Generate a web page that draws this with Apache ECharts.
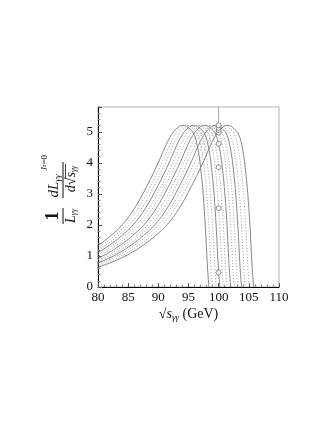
<!DOCTYPE html>
<html><head><meta charset="utf-8">
<script src="https://cdn.jsdelivr.net/npm/echarts@6/dist/echarts.min.js"></script>
<style>html,body{margin:0;padding:0;background:#fff}#c{width:333px;height:430px}</style>
</head><body><div id="c"></div>
<script>
// Curve profile: offset from the peak (GeV) and value
const profileT = [-22, -20, -18, -16, -14, -12, -10, -8, -6, -4, -3, -2, -1, 0, 0.6, 1.2, 1.7, 2.3, 2.9, 3.5, 4.1, 4.3];
const profileY = [0.6, 0.74, 0.9, 1.1, 1.35, 1.65, 2.02, 2.55, 3.25, 4.05, 4.5, 4.88, 5.12, 5.21, 5.18, 5.07, 4.97, 4.61, 3.86, 2.54, 0.47, 0];
// Peak positions of the 13 curves
const peaks = [94.1, 94.7, 95.3, 95.9, 96.5, 97.1, 97.7, 98.3, 98.9, 99.5, 100.1, 100.8, 101.5];
// Circles at sqrt(s)=100
const circleX = [100, 100, 100, 100, 100, 100, 100, 100];
const circleY = [0.47, 2.54, 3.86, 4.61, 4.98, 5.06, 5.13, 5.21];
const xTicks = [80, 85, 90, 95, 100, 105, 110];
const yTicks = [0, 1, 2, 3, 4, 5];

const serif = 'Liberation Serif';
const series = peaks.map((p, i) => ({
  type: 'line',
  data: profileT.map((t, k) => [p + t, profileY[k]]),
  smooth: 0.4,
  symbol: 'none',
  silent: true,
  lineStyle: i % 3 === 0
    ? { color: '#7a7a7a', width: 0.9, type: 'solid' }
    : { color: '#a0a0a0', width: 0.9, type: [1.2, 1.8] },
  z: 2
}));
series.push({
  type: 'scatter',
  data: circleX.map((x, k) => [x, circleY[k]]),
  symbol: 'circle',
  symbolSize: 5,
  itemStyle: { color: '#fff', borderColor: '#666', borderWidth: 0.9 },
  z: 5,
  markLine: {
    silent: true, symbol: 'none', label: { show: false },
    lineStyle: { color: '#aaa', width: 1, type: 'solid' },
    data: [[{ coord: [100, 5.22] }, { coord: [100, 5.8] }]]
  }
});

const chart = echarts.init(document.getElementById('c'), null, { renderer: 'canvas' });
chart.setOption({
  animation: false,
  grid: { left: 98, right: 54, top: 107, bottom: 143, show: true, borderColor: '#b0b0b0', borderWidth: 1, backgroundColor: 'transparent' },
  xAxis: {
    type: 'value', min: 80, max: 110, interval: 5,
    axisLine: { show: true, lineStyle: { color: '#000', width: 1 } },
    axisTick: { show: true, inside: true, length: 4, lineStyle: { color: '#555' } },
    minorTick: { show: true, splitNumber: 5, length: 2.5, lineStyle: { color: '#888' } },
    splitLine: { show: false },
    axisLabel: { color: '#111', fontFamily: serif, fontSize: 13, margin: 4,
      formatter: v => xTicks.includes(v) ? String(v) : '' },
    name: '{r|√}{i|s}{sub|γγ}{n| (GeV)}',
    nameLocation: 'middle', nameGap: 20,
    nameTextStyle: {
      rich: {
        r: { fontFamily: serif, fontSize: 14, color: '#111' },
        i: { fontFamily: serif, fontStyle: 'italic', fontSize: 14, color: '#111' },
        sub: { fontFamily: serif, fontStyle: 'italic', fontSize: 9, color: '#111', verticalAlign: 'bottom', padding: [6, 0, 0, 0] },
        n: { fontFamily: serif, fontSize: 14, color: '#111' }
      }
    }
  },
  yAxis: {
    type: 'value', min: 0, max: 5.8, interval: 1,
    axisLine: { show: true, lineStyle: { color: '#000', width: 1 } },
    axisTick: { show: true, inside: true, length: 4, lineStyle: { color: '#555' } },
    minorTick: { show: true, splitNumber: 5, length: 2.5, lineStyle: { color: '#888' } },
    splitLine: { show: false },
    axisLabel: { color: '#111', fontFamily: serif, fontSize: 13, margin: 5, showMaxLabel: false,
      formatter: v => yTicks.includes(v) ? String(v) : '' }
  },
  graphic: [
    {
      type: 'group', x: 63, y: 196, rotation: Math.PI / 2,
      children: [
        { type: 'line', shape: { x1: -28, y1: 0, x2: -12, y2: 0 }, style: { stroke: '#111', lineWidth: 1 } },
        { type: 'text', x: -20, y: -1, style: { text: '1', fontFamily: serif, fontSize: 18, fontWeight: 'bold', fill: '#111', align: 'center', verticalAlign: 'bottom' } },
        { type: 'text', x: -20, y: 1, style: { text: '{i|L}{s|γγ}', align: 'center', verticalAlign: 'top',
            rich: { i: { fontFamily: serif, fontStyle: 'italic', fontSize: 14, fill: '#111' },
                    s: { fontFamily: serif, fontStyle: 'italic', fontSize: 8, fill: '#111', verticalAlign: 'bottom', padding: [5, 0, 0, 0] } } } },
        { type: 'line', shape: { x1: -2, y1: 0, x2: 34, y2: 0 }, style: { stroke: '#111', lineWidth: 1 } },
        { type: 'text', x: 10, y: -1, style: { text: '{i|dL}{s|γγ}', align: 'center', verticalAlign: 'bottom',
            rich: { i: { fontFamily: serif, fontStyle: 'italic', fontSize: 15, fill: '#111' },
                    s: { fontFamily: serif, fontStyle: 'italic', fontSize: 9, fill: '#111', verticalAlign: 'bottom', padding: [5, 0, 0, 0] } } } },
        { type: 'text', x: 33, y: -14, style: { text: '{i|J}{s|z}{n|=0}', align: 'center', verticalAlign: 'bottom',
            rich: { i: { fontFamily: serif, fontStyle: 'italic', fontSize: 9, fill: '#111' },
                    s: { fontFamily: serif, fontStyle: 'italic', fontSize: 6, fill: '#111' },
                    n: { fontFamily: serif, fontSize: 9, fill: '#111' } } } },
        { type: 'text', x: 17, y: 1, style: { text: '{i|d}{r|√}{i|s}{s|γγ}', align: 'center', verticalAlign: 'top',
            rich: { i: { fontFamily: serif, fontStyle: 'italic', fontSize: 14, fill: '#111' },
                    r: { fontFamily: serif, fontSize: 14, fill: '#111' },
                    s: { fontFamily: serif, fontStyle: 'italic', fontSize: 8, fill: '#111', verticalAlign: 'bottom', padding: [5, 0, 0, 0] } } } },
        { type: 'line', shape: { x1: 17, y1: 2.5, x2: 32, y2: 2.5 }, style: { stroke: '#111', lineWidth: 0.8 } }
      ]
    }
  ],
  series: series
});
</script></body></html>
